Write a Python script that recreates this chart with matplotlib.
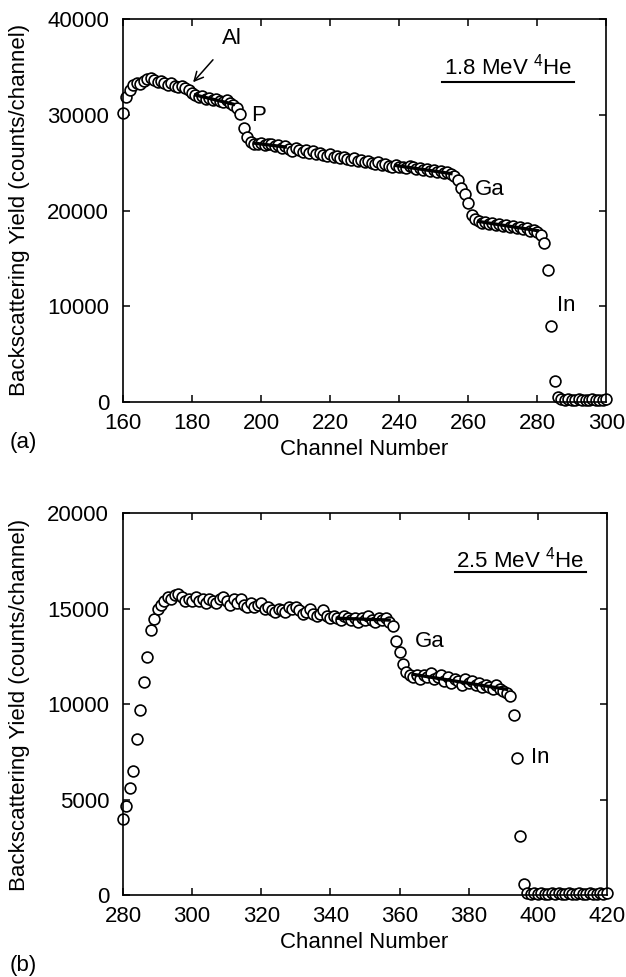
import numpy as np
import matplotlib
matplotlib.use("Agg")
import matplotlib.pyplot as plt

plt.rcParams["font.family"] = ["Liberation Sans", "DejaVu Sans"]
plt.rcParams["mathtext.fontset"] = "custom"
plt.rcParams["mathtext.rm"] = "Liberation Sans"

# (a) 1.8 MeV 4He spectrum, channels 160..300
chan_a = np.arange(160, 301)
yield_a = [
    30200, 31900, 32600, 33100, 33300, 33200, 33500, 33700, 33800, 33600,
    33400, 33500, 33300, 33100, 33300, 33000, 32900, 33000, 32800, 32600,
    32300, 32100, 31900, 32000, 31700, 31800, 31500, 31600, 31400, 31300,
    31500, 31200, 31000, 30700, 30100, 28600, 27700, 27200, 27000, 26900,
    27100, 26800, 27000, 26900, 26700, 26800, 26500, 26700, 26400, 26200,
    26500, 26300, 26100, 26300, 26000, 26200, 25900, 26000, 25800, 25700,
    25900, 25600, 25700, 25500, 25600, 25400, 25300, 25500, 25200, 25300,
    25100, 25200, 25000, 24900, 25100, 24800, 24900, 24700, 24600, 24800,
    24500, 24600, 24400, 24700, 24500, 24300, 24400, 24200, 24300, 24100,
    24200, 24000, 24100, 23900, 24000, 23800, 23600, 23200, 22400, 21700,
    20800, 19500, 19100, 18900, 18700, 18800, 18600, 18700, 18500, 18600,
    18400, 18500, 18300, 18400, 18200, 18300, 18100, 18200, 17900, 18000,
    17800, 17400, 16600, 13800, 7900, 2200, 500, 300, 250, 300,
    200, 250, 300, 200, 250, 200, 300, 250, 200, 250,
    300,
]
fits_a = [(181, 192), (198, 207), (239, 255), (263, 280)]

# (b) 2.5 MeV 4He spectrum, channels 280..420
chan_b = np.arange(280, 421)
yield_b = [
    4000, 4650, 5600, 6500, 8150, 9700, 11150, 12450, 13900, 14450,
    15000, 15200, 15400, 15600, 15500, 15700, 15750, 15600, 15400, 15500,
    15400, 15600, 15400, 15500, 15300, 15500, 15400, 15300, 15500, 15600,
    15400, 15200, 15500, 15300, 15500, 15200, 15100, 15300, 15100, 15200,
    15300, 15000, 15100, 14900, 14800, 15000, 14900, 14800, 15100, 15000,
    15100, 14900, 14700, 14800, 15000, 14700, 14600, 14700, 14900, 14600,
    14500, 14600, 14500, 14400, 14600, 14500, 14400, 14500, 14300, 14500,
    14400, 14600, 14400, 14300, 14500, 14400, 14500, 14300, 14100, 13300,
    12700, 12100, 11700, 11500, 11400, 11500, 11300, 11500, 11400, 11600,
    11300, 11400, 11500, 11200, 11400, 11100, 11300, 11200, 11000, 11300,
    11100, 11200, 11000, 11100, 10900, 11000, 10900, 10800, 11000, 10800,
    10700, 10600, 10400, 9400, 7200, 3100, 600, 100, 80, 100,
    60, 100, 80, 60, 100, 80, 100, 60, 80, 100,
    60, 80, 100, 80, 60, 100, 80, 60, 100, 80,
    100,
]
fits_b = [(342, 357), (364, 391)]

fig = plt.figure(figsize=(6.26, 9.77), dpi=100)
ax_a = fig.add_axes([0.1965, 0.5885, 0.7720, 0.3920])
ax_b = fig.add_axes([0.1965, 0.0839, 0.7730, 0.3910])

fs = 16


def draw(ax, chan, counts, fits, xlim, ylim, ystep):
    chan = np.asarray(chan)
    counts = np.asarray(counts, dtype=float)
    ax.plot(chan, counts, "o", ms=7.8, mfc="white", mec="black", mew=1.2,
            zorder=2, clip_on=False)
    for lo, hi in fits:
        m = (chan >= lo) & (chan <= hi)
        k, b = np.polyfit(chan[m], counts[m], 1)
        xs = np.array([lo, hi])
        ax.plot(xs, k * xs + b, color="black", lw=2.4, zorder=3)
    ax.set_xlim(*xlim)
    ax.set_ylim(*ylim)
    ax.set_xticks(np.arange(xlim[0], xlim[1] + 1, 20))
    ax.set_yticks(np.arange(ylim[0], ylim[1] + 1, ystep))
    ax.tick_params(direction="in", top=True, right=True, length=5, width=1.1,
                   labelsize=fs)
    ax.tick_params(axis="y", pad=10)
    ax.tick_params(axis="x", pad=8)
    for s in ax.spines.values():
        s.set_linewidth(1.2)


draw(ax_a, chan_a, yield_a, fits_a, (160, 300), (0, 40000), 10000)
draw(ax_b, chan_b, yield_b, fits_b, (280, 420), (0, 20000), 5000)

# panel (a) annotations
ax_a.text(199.3, 29900, "P", fontsize=fs, ha="center", va="center")
ax_a.text(266.2, 22150, "Ga", fontsize=fs, ha="center", va="center")
ax_a.text(288.5, 10050, "In", fontsize=fs, ha="center", va="center")
ax_a.annotate("Al", xy=(180.3, 33400), xytext=(191.6, 38000), fontsize=fs,
              ha="center", va="center",
              arrowprops=dict(arrowstyle="->", color="black", lw=1.1,
                              shrinkA=8, shrinkB=0))
ax_a.text(0.797, 0.854, r"1.8 MeV $^{\mathrm{4}}$He", transform=ax_a.transAxes,
          fontsize=fs, ha="center", va="baseline")
ax_a.plot([0.660, 0.934], [0.836, 0.836], color="black", lw=1.5,
          transform=ax_a.transAxes)

# panel (b) annotations
ax_b.text(368.8, 13250, "Ga", fontsize=fs, ha="center", va="center")
ax_b.text(400.6, 7220, "In", fontsize=fs, ha="center", va="center")
ax_b.text(0.820, 0.857, r"2.5 MeV $^{\mathrm{4}}$He", transform=ax_b.transAxes,
          fontsize=fs, ha="center", va="baseline")
ax_b.plot([0.686, 0.957], [0.846, 0.846], color="black", lw=1.5,
          transform=ax_b.transAxes)

ylab = "Backscattering Yield (counts/channel)"
fig.text(0.031, 0.785, ylab, rotation=90, fontsize=fs, ha="center", va="center")
fig.text(0.031, 0.278, ylab, rotation=90, fontsize=fs, ha="center", va="center")
fig.text(0.581, 0.540, "Channel Number", fontsize=fs, ha="center", va="center")
fig.text(0.581, 0.035, "Channel Number", fontsize=fs, ha="center", va="center")
fig.text(0.038, 0.547, "(a)", fontsize=fs, ha="center", va="center")
fig.text(0.037, 0.0113, "(b)", fontsize=fs, ha="center", va="center")

fig.savefig("out.png", dpi=100)
